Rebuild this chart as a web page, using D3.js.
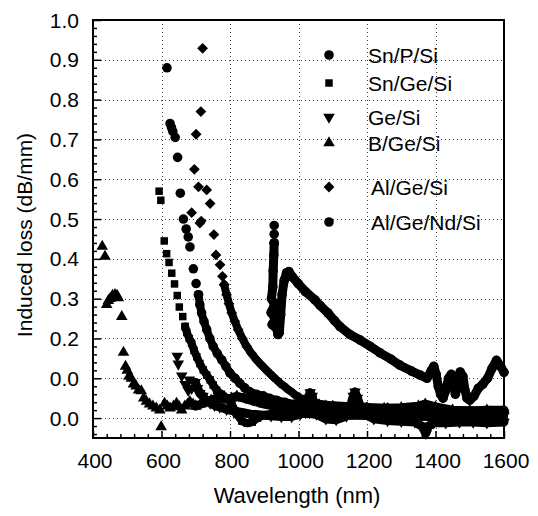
<!DOCTYPE html>
<html><head><meta charset="utf-8">
<script src="https://cdn.jsdelivr.net/npm/d3@7"></script>
<style>html,body{margin:0;padding:0;background:#fff;}svg{display:block;}</style>
</head><body>
<svg id="chart" width="538" height="516"></svg>
<script>
// ---- data ----
const xTicks = [400, 600, 800, 1000, 1200, 1400, 1600];
const xTickLabels = ["400", "600", "800", "1000", "1200", "1400", "1600"];
const yTicks = [0.0, 0.1, 0.2, 0.3, 0.4, 0.5, 0.6, 0.7, 0.8, 0.9, 1.0];
const yTickLabels = ["0.0", "0.0", "0.2", "0.3", "0.4", "0.5", "0.6", "0.7", "0.8", "0.9", "1.0"];
const seriesNames = ["Sn/P/Si", "Sn/Ge/Si", "Ge/Si", "B/Ge/Si", "Al/Ge/Si", "Al/Ge/Nd/Si"];

// Sn/P/Si (circles)
const snpPts = [[616,0.88],[625,0.74],[629,0.73],[633,0.72],[640,0.705],[647,0.655],[655,0.565],[664,0.50],[672,0.475],[678,0.455],[683,0.43],[693,0.375],[701,0.338],[708,0.31]];
const snpTrace = [[708,0.31],[712,0.285],[717,0.264],[724,0.243],[732,0.222],[741,0.2],[751,0.18],[763,0.162],[776,0.146],[788,0.13],[800,0.113],[815,0.1],[829,0.087],[843,0.076],[858,0.066],[877,0.06],[897,0.056],[915,0.05],[936,0.045],[960,0.04],[990,0.035],[1030,0.03],[1080,0.025],[1140,0.022],[1200,0.02],[1260,0.018],[1330,0.015],[1400,0.012],[1470,0.012],[1540,0.01],[1600,0.012]];
// Sn/Ge/Si (squares)
const sngPts = [[593,0.57],[598,0.547],[608,0.445],[615,0.413],[622,0.391],[630,0.364],[638,0.337],[646,0.308],[652,0.279],[662,0.255],[669,0.23]];
const sngTrace = [[669,0.23],[674,0.215],[681,0.2],[688,0.188],[695,0.17],[703,0.154],[712,0.137],[722,0.121],[732,0.108],[742,0.096],[751,0.083],[761,0.07],[775,0.06],[790,0.05],[805,0.035],[820,0.01],[835,-0.008],[850,-0.013],[865,-0.01],[880,0.0],[900,0.008],[930,0.012],[970,0.012],[1020,0.01],[1080,0.008],[1150,0.006],[1220,0.005],[1300,0.004],[1380,0.003],[1450,0.002],[1520,0.003],[1600,0.002]];
// Ge/Si (down triangles)
const gePts = [[646,0.156],[649,0.136],[659,0.106],[669,0.085],[678,0.07],[681,0.096],[688,0.075],[698,0.09]];
const geTrace = [[698,0.09],[705,0.075],[712,0.062],[721,0.055],[730,0.045],[742,0.038],[755,0.032],[770,0.028],[790,0.022],[810,0.018],[830,0.015],[860,0.01],[890,0.008],[920,0.006],[950,0.004],[980,0.004],[1005,0.01],[1020,0.03],[1028,0.05],[1034,0.064],[1040,0.055],[1046,0.03],[1052,0.01],[1080,-0.002],[1110,-0.004],[1140,0.005],[1152,0.03],[1160,0.055],[1165,0.066],[1172,0.05],[1180,0.03],[1190,0.012],[1220,-0.002],[1260,-0.006],[1300,-0.008],[1340,-0.01],[1360,-0.02],[1372,-0.038],[1380,-0.02],[1395,-0.012],[1430,-0.012],[1470,-0.01],[1510,-0.01],[1550,-0.012],[1600,-0.01]];
// B/Ge/Si (up triangles)
const bgePts = [[427,0.431],[435,0.406],[440,0.285],[445,0.295],[450,0.30],[457,0.308],[464,0.31],[470,0.308],[474,0.302],[484,0.255],[489,0.165],[495,0.13],[500,0.12],[505,0.105],[512,0.1],[518,0.085],[526,0.08],[533,0.07],[541,0.068],[548,0.05],[556,0.042],[565,0.035],[575,0.03],[585,0.025],[595,0.02],[599,-0.022],[609,0.037],[617,0.03],[625,0.025],[635,0.03],[644,0.037],[652,0.028],[659,0.02],[668,0.03],[676,0.035],[683,0.041],[692,0.035],[700,0.03]];
const bgeTrace = [[700,0.03],[715,0.035],[730,0.04],[745,0.045],[760,0.05],[775,0.05],[790,0.048],[805,0.05],[820,0.055],[840,0.05],[860,0.045],[880,0.04],[900,0.035],[930,0.03],[960,0.028],[1000,0.026],[1050,0.028],[1080,0.03],[1100,0.028],[1150,0.026],[1200,0.024],[1250,0.024],[1300,0.026],[1350,0.03],[1370,0.035],[1400,0.028],[1450,0.02],[1500,0.018],[1550,0.02],[1600,0.02]];
// Al/Ge/Si (diamonds)
const algPts = [[720,0.929],[715,0.77],[701,0.713],[696,0.625],[708,0.581],[732,0.573],[742,0.539],[688,0.516],[712,0.49],[716,0.495],[753,0.461],[759,0.41],[771,0.385],[778,0.356],[783,0.335]];
const algTrace = [[783,0.335],[790,0.31],[797,0.287],[805,0.264],[814,0.243],[824,0.222],[836,0.2],[849,0.18],[863,0.162],[878,0.146],[892,0.133],[907,0.12],[925,0.105],[946,0.088],[965,0.075],[985,0.062],[1005,0.05],[1030,0.042],[1060,0.036],[1100,0.032],[1150,0.03],[1200,0.028],[1260,0.026],[1320,0.025],[1380,0.022],[1440,0.02],[1500,0.02],[1560,0.018],[1600,0.02]];
// Al/Ge/Nd/Si (circles)
const algndPts = [[929,0.484],[929,0.462],[929,0.44]];
const algndTrace = [[929,0.44],[928,0.41],[926,0.37],[925,0.33],[921,0.30],[930,0.285],[920,0.265],[932,0.25],[923,0.235],[936,0.225],[940,0.21],[944,0.215],[948,0.26],[952,0.31],[958,0.345],[965,0.365],[972,0.368],[982,0.355],[999,0.338],[1020,0.318],[1048,0.297],[1063,0.283],[1086,0.264],[1105,0.245],[1121,0.23],[1150,0.21],[1180,0.196],[1210,0.18],[1238,0.164],[1270,0.148],[1296,0.133],[1330,0.118],[1355,0.108],[1375,0.1],[1388,0.12],[1395,0.13],[1402,0.11],[1408,0.08],[1415,0.06],[1422,0.05],[1430,0.07],[1438,0.1],[1446,0.11],[1452,0.09],[1458,0.06],[1465,0.08],[1472,0.116],[1480,0.105],[1486,0.07],[1492,0.05],[1500,0.045],[1512,0.055],[1525,0.075],[1538,0.085],[1552,0.1],[1565,0.125],[1578,0.145],[1590,0.13],[1600,0.115]];

// ---- layout ----
const M = {left: 93, top: 20, right: 504, bottom: 438};
const FONT = "'Liberation Sans', Arial, Helvetica, sans-serif";
const svg = d3.select("#chart");
const x = d3.scaleLinear().domain([400, 1600]).range([M.left, M.right]);
const y = d3.scaleLinear().domain([-0.05, 1.0]).range([M.bottom, M.top]);

// gridlines
const grid = svg.append("g").attr("stroke", "#444").attr("stroke-width", 1).attr("stroke-dasharray", "1,3");
grid.selectAll("line.gx").data(xTicks.filter(d => d > 400 && d < 1600)).join("line")
  .attr("x1", d => Math.round(x(d)) + 0.5).attr("x2", d => Math.round(x(d)) + 0.5)
  .attr("y1", M.top).attr("y2", M.bottom);
grid.selectAll("line.gy").data(yTicks.filter(d => d < 1.0)).join("line")
  .attr("y1", d => Math.round(y(d)) + 0.5).attr("y2", d => Math.round(y(d)) + 0.5)
  .attr("x1", M.left).attr("x2", M.right);

// axes (ticks inward)
const xAxis = d3.axisBottom(x).tickValues(d3.range(400, 1601, 40)).tickSize(0).tickFormat("");
const gx = svg.append("g").attr("transform", `translate(0,${M.bottom})`).call(xAxis);
gx.select(".domain").remove();
gx.selectAll(".tick line").attr("y2", d => (d % 200 === 0 ? -7 : -4)).attr("stroke", "#000").attr("stroke-width", 1.5);
const yAxis = d3.axisLeft(y).tickValues(d3.range(-0.04, 1.0001, 0.02).map(v => +v.toFixed(2))).tickSize(0).tickFormat("");
const gy = svg.append("g").attr("transform", `translate(${M.left},0)`).call(yAxis);
gy.select(".domain").remove();
gy.selectAll(".tick line").attr("x2", d => (Math.abs(Math.round(d * 100) % 10) === 0 ? 8 : 4)).attr("stroke", "#000").attr("stroke-width", 1.5);

// tick labels
svg.append("g").selectAll("text").data(xTicks).join("text")
  .attr("x", d => x(d) + 2).attr("y", 468)
  .attr("text-anchor", "middle").attr("font-family", FONT).attr("font-size", 21)
  .text((d, i) => xTickLabels[i]);
svg.append("g").selectAll("text").data(yTicks).join("text")
  .attr("x", 79).attr("y", d => y(d) + 7.5)
  .attr("text-anchor", "end").attr("font-family", FONT).attr("font-size", 21)
  .text((d, i) => yTickLabels[i]);

// axis titles
svg.append("text").attr("x", 297).attr("y", 503).attr("text-anchor", "middle")
  .attr("font-family", FONT).attr("font-size", 22).text("Wavelength (nm)");
svg.append("text").attr("transform", "translate(32,235) rotate(-90)").attr("text-anchor", "middle")
  .attr("font-family", FONT).attr("font-size", 21).text("Induced loss (dB/mm)");

// symbols
const sym = {
  circle: d3.symbol().type(d3.symbolCircle).size(72)(),
  square: d3.symbol().type(d3.symbolSquare).size(56)(),
  tri: d3.symbol().type(d3.symbolTriangle).size(58)(),
  diamond: d3.symbol().type(d3.symbolSquare).size(58)()
};
const shapeRot = {circle: 0, square: 0, triUp: 0, triDown: 180, diamond: 45};
function symPath(s) { return s === "triUp" || s === "triDown" ? sym.tri : sym[s]; }

const data = svg.append("g");
const line = d3.line().x(d => x(d[0])).y(d => y(d[1])).curve(d3.curveLinear);
function drawSeries(pts, trace, shape, width) {
  if (trace) {
    data.append("path").datum(trace).attr("d", line).attr("fill", "none")
      .attr("stroke", "#000").attr("stroke-width", width).attr("stroke-linejoin", "round").attr("stroke-linecap", "round");
  }
  data.append("g").selectAll("path").data(pts.concat(trace || [])).join("path")
    .attr("d", symPath(shape)).attr("fill", "#000")
    .attr("transform", d => `translate(${x(d[0])},${y(d[1])}) rotate(${shapeRot[shape]})`);
}
drawSeries(bgePts, bgeTrace, "triUp", 9);
drawSeries(gePts, geTrace, "triDown", 9);
drawSeries(sngPts, sngTrace, "square", 8);
drawSeries(snpPts, snpTrace, "circle", 8);
drawSeries(algPts, algTrace, "diamond", 8);
drawSeries(algndPts, algndTrace, "circle", 9);

// frame
svg.append("rect").attr("x", M.left).attr("y", M.top).attr("width", M.right - M.left).attr("height", M.bottom - M.top)
  .attr("fill", "none").attr("stroke", "#000").attr("stroke-width", 2);

// legend
const legendShapes = ["circle", "square", "triDown", "triUp", "diamond", "circle"];
const legendRowY = [55, 83, 117, 143, 187, 222];
const lg = svg.append("g");
seriesNames.forEach((name, i) => {
  lg.append("path").attr("d", symPath(legendShapes[i])).attr("fill", "#000")
    .attr("transform", `translate(329,${legendRowY[i]}) rotate(${shapeRot[legendShapes[i]]})`);
  lg.append("text").attr("x", i >= 4 ? 371 : 368).attr("y", legendRowY[i] + 8)
    .attr("font-family", FONT).attr("font-size", 21).text(name);
});
</script>
</body></html>
